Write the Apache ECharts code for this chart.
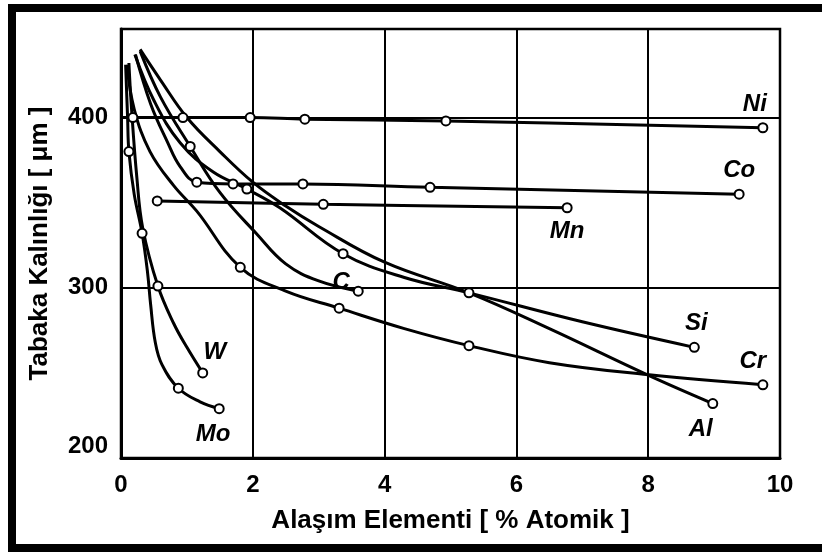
<!DOCTYPE html>
<html>
<head>
<meta charset="utf-8">
<script src="https://cdn.jsdelivr.net/npm/echarts@6/dist/echarts.min.js"></script>
<style>
  html, body { margin: 0; padding: 0; background: #fff; }
  #chart { width: 822px; height: 552px; }
</style>
</head>
<body>
<div id="chart"></div>
<script>
// Axis ticks
const xTicks = [0, 2, 4, 6, 8, 10];
const yTicks = [200, 300, 400];
const yTop = 452;

// Layer thickness (µm) against alloying element content (% atomic).
// *Curve = drawn path, *Points = measured points (circles).
const niCurve  = [[0, 400], [0.18, 400], [0.94, 400], [1.96, 400], [2.79, 399], [4.93, 398], [9.74, 394]];
const niPoints = [[0.18, 400], [0.94, 400], [1.96, 400], [2.79, 399], [4.93, 398], [9.74, 394]];

const coCurve  = [[0.22, 437], [0.45, 408], [0.7, 386], [0.9, 371], [1.15, 362], [1.7, 361], [2.76, 361], [4.69, 359], [9.38, 355]];
const coPoints = [[1.15, 362], [1.7, 361], [2.76, 361], [4.69, 359], [9.38, 355]];

const mnCurve  = [[0.55, 351], [3.07, 349], [6.77, 347]];
const mnPoints = [[0.55, 351], [3.07, 349], [6.77, 347]];

const cCurve   = [[0.29, 439], [0.6, 412], [1.05, 383], [1.5, 356], [2.05, 332], [2.5, 314], [3.0, 304], [3.6, 298]];
const cPoints  = [[1.05, 383], [3.6, 298]];

const siCurve  = [[0.21, 437], [0.5, 410], [0.9, 385], [1.4, 368], [1.91, 358], [2.41, 347], [3.37, 320], [4.3, 306], [5.28, 297], [7.0, 280], [8.7, 265]];
const siPoints = [[1.91, 358], [3.37, 320], [8.7, 265]];

const crCurve  = [[0.09, 431], [0.2, 405], [0.44, 380], [0.8, 360], [1.15, 345], [1.81, 312], [2.5, 298], [3.31, 288], [4.3, 276], [5.28, 266], [6.5, 256], [7.98, 249], [9.74, 243]];
const crPoints = [[1.81, 312], [3.31, 288], [5.28, 266], [9.74, 243]];

const alCurve  = [[0.29, 440], [0.6, 422], [1.0, 400], [1.5, 380], [2.0, 362], [2.5, 348], [3.0, 336], [4.0, 315], [5.28, 297], [6.5, 276], [7.98, 249], [8.98, 232]];
const alPoints = [[5.28, 297], [8.98, 232]];

const wCurve   = [[0.12, 432], [0.16, 405], [0.24, 365], [0.33, 335], [0.56, 301], [0.8, 279], [1.0, 265], [1.24, 250]];
const wPoints  = [[0.56, 301], [1.24, 250]];

const moCurve  = [[0.07, 431], [0.1, 400], [0.12, 380], [0.2, 355], [0.32, 332], [0.4, 310], [0.45, 290], [0.52, 268], [0.62, 255], [0.87, 241], [1.2, 233], [1.49, 229]];
const moPoints = [[0.12, 380], [0.32, 332], [0.87, 241], [1.49, 229]];

const FONT = 'Liberation Sans';

// Label placement for each element name, next to its last measured point
function nameLabel(text, position, offset) {
  return {
    show: true,
    formatter: text,
    position: position,
    offset: offset,
    color: '#000',
    fontFamily: FONT,
    fontStyle: 'italic',
    fontWeight: 'bold',
    fontSize: 24
  };
}

function element(text, curve, points, position, offset) {
  const line = {
    type: 'line',
    data: curve,
    smooth: 0.4,
    showSymbol: false,
    silent: true,
    lineStyle: { color: '#000', width: 3 },
    z: 3
  };
  const marks = {
    type: 'scatter',
    data: points.map((p, i) => i === points.length - 1
      ? { value: p, label: nameLabel(text, position, offset) }
      : p),
    symbol: 'circle',
    symbolSize: 9,
    itemStyle: { color: '#fff', borderColor: '#000', borderWidth: 2, opacity: 1 },
    silent: true,
    z: 4
  };
  return [line, marks];
}

const series = [].concat(
  element('Ni', niCurve, niPoints, 'top', [-8, -1]),
  element('Co', coCurve, coPoints, 'top', [0, -1]),
  element('Mn', mnCurve, mnPoints, 'bottom', [0, 1]),
  element('C', cCurve, cPoints, 'left', [2, -9]),
  element('Si', siCurve, siPoints, 'top', [2, -1]),
  element('Cr', crCurve, crPoints, 'top', [-10, -1]),
  element('Al', alCurve, alPoints, 'bottom', [-12, 3]),
  element('W', wCurve, wPoints, 'top', [12, 2]),
  element('Mo', moCurve, moPoints, 'bottom', [-6, 3])
);

const chart = echarts.init(document.getElementById('chart'), null, { renderer: 'canvas' });
chart.setOption({
  animation: false,
  backgroundColor: '#fff',
  grid: {
    left: 121, right: 42, top: 29, bottom: 94,
    show: true, borderColor: '#000', borderWidth: 2.5
  },
  xAxis: {
    type: 'value',
    min: xTicks[0], max: xTicks[xTicks.length - 1], interval: xTicks[1] - xTicks[0],
    name: 'Alaşım Elementi [ % Atomik ]',
    nameLocation: 'middle',
    nameGap: 50,
    nameTextStyle: { color: '#000', fontFamily: FONT, fontWeight: 'bold', fontSize: 26 },
    axisLine: { lineStyle: { color: '#000', width: 3 } },
    axisTick: { show: false },
    axisLabel: { color: '#000', fontFamily: FONT, fontWeight: 'bold', fontSize: 24, margin: 15 },
    splitLine: { show: true, lineStyle: { color: '#000', width: 2 } }
  },
  yAxis: {
    type: 'value',
    min: yTicks[0], max: yTop, interval: yTicks[1] - yTicks[0],
    name: 'Tabaka Kalınlığı [ μm ]',
    nameLocation: 'middle',
    nameGap: 68,
    nameTextStyle: { color: '#000', fontFamily: FONT, fontWeight: 'bold', fontSize: 26 },
    axisLine: { show: true, lineStyle: { color: '#000', width: 3 } },
    axisTick: { show: false },
    axisLabel: {
      color: '#000', fontFamily: FONT, fontWeight: 'bold', fontSize: 24, margin: 13,
      showMaxLabel: false, verticalAlignMinLabel: 'bottom'
    },
    splitLine: { show: true, lineStyle: { color: '#000', width: 2 } }
  },
  graphic: [
    { type: 'rect', shape: { x: 8, y: 4, width: 814, height: 8 }, style: { fill: '#000' } },
    { type: 'rect', shape: { x: 8, y: 4, width: 8, height: 548 }, style: { fill: '#000' } },
    { type: 'rect', shape: { x: 8, y: 544, width: 814, height: 8 }, style: { fill: '#000' } }
  ],
  series: series
});
</script>
</body>
</html>
